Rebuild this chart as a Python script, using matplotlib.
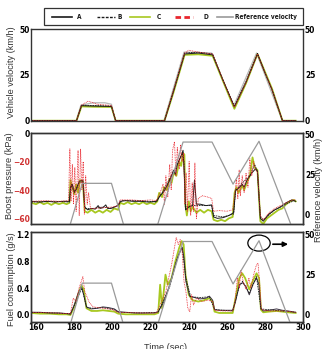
import matplotlib
matplotlib.use("Agg")
import matplotlib.pyplot as plt
from matplotlib.lines import Line2D
from matplotlib.patches import Ellipse, Rectangle
from matplotlib.font_manager import FontProperties

# ---- data ----
# panel 1: vehicle velocity (km/h)
vel_t = [157.5, 181.2, 183.8, 190, 199.5, 201.7, 227.3, 232, 237.8, 245, 252.5, 258, 263.9, 270, 276, 280, 283.6, 289.1, 296]
vel_A = [0, 0, 8.2, 8.0, 7.8, 0, 0, 16, 36.5, 37, 36, 22, 7.5, 21, 36.5, 26, 17, 0, 0]
vel_B = [0, 0, 8.5, 8.3, 8.0, 0, 0, 16.5, 37, 37.5, 36.5, 22, 8, 21.5, 36.8, 26, 17, 0, 0]
vel_C = [0, 0, 7.8, 7.6, 7.5, 0, 0, 15.5, 36, 36.3, 35.5, 21.5, 6.5, 20.5, 36.5, 26.5, 17.5, 0, 0]
velD_t = [157.5, 181.2, 183.8, 187.3, 192, 199.5, 201.7, 227.3, 232, 237.8, 240, 245, 252.5, 258, 263.9, 270, 276, 280, 283.6, 289.1, 296]
vel_D = [0, 0, 8.5, 10.7, 9, 8.3, 0, 0, 16.5, 37, 38.5, 37.5, 36.5, 22, 7.5, 21, 36.5, 26, 17, 0, 0]
velR_t = [157.5, 181, 183.5, 190, 196, 199.5, 201.5, 227, 237.5, 252, 263.5, 275.5, 289, 296]
vel_R = [0, 0, 8.5, 9.8, 9.8, 9, 0, 0, 37.5, 37, 8, 37, 0, 0]

# reference velocity drawn on the right axes of panels 2 and 3 (below 0 = off the axes)
ref_t = [157.5, 177.5, 184.2, 199.5, 206.2, 223.3, 237.0, 252.2, 263.2, 276.8, 294.0, 300]
ref_v = [-8, -8, 19.5, 19.5, -8, -8, 45.5, 45.5, 19.0, 46.0, -8, -8]

# panel 2: boost pressure (kPa)
bA_t = [157.5, 162, 166, 170, 174, 177.5, 178, 179, 180, 181, 182.5, 184.5, 185.5, 187, 189, 191, 192.5, 193.5,
        195, 196.5, 197.5, 199, 201, 203, 204, 207, 211, 215, 219, 223, 225, 227, 229, 231, 232, 233, 234, 236,
        237, 237.8, 238.3, 240, 242, 243, 244, 246, 249, 252, 253, 255, 258, 261, 263.5, 264.5, 266, 268, 269,
        270.5, 273, 275, 276, 277.5, 279, 282, 285, 288, 291, 294, 296]
bA = [-48, -48.5, -48, -48.5, -48, -48, -38, -36, -41, -40, -34, -33, -52, -54, -53, -53.5, -51, -53,
      -52.5, -50.5, -53, -53, -52, -51, -48, -47.5, -48, -48, -48.5, -48, -44, -41, -36, -30, -26, -29, -22, -16,
      -12, -33, -54, -52, -51, -33, -50, -50, -51, -50.5, -59, -60, -59.5, -58, -56, -40, -39, -36, -38,
      -33, -28, -25, -27, -60, -62, -57, -54, -52, -49, -47, -48]
bB_t = [157.5, 170, 177.5, 178.5, 180, 182.5, 184.5, 185.5, 190, 195, 200, 203.5, 205, 215, 223, 226, 230, 233,
        236.5, 237.5, 238.2, 242, 246, 252, 253, 258, 263.5, 264.5, 268, 272, 274.5, 276, 277.5, 279, 285, 291, 296]
bB = [-48.5, -48, -48.5, -36, -42, -35, -34, -53, -53, -52, -53, -50, -47.5, -47.5, -48.5, -42, -32, -25,
      -14, -20, -52, -51, -51, -51, -58, -59, -57, -41, -35, -30, -22, -27, -59, -61, -54, -50, -47]
bC_t = [157.5, 160, 162, 164, 166, 168, 170, 172, 174, 176, 177.5, 178, 179, 180, 181, 182, 183, 184.5, 185.5,
        187, 189, 191, 193, 195, 197, 199, 201, 203, 204, 206, 208, 210, 212, 214, 216, 218, 220, 222, 223.5,
        224.5, 226, 227, 228.5, 230, 231, 232, 233.5, 235, 236, 237, 237.7, 238.2, 239, 240, 241, 242, 244, 246,
        248, 250, 252, 253, 255, 257, 259, 261, 263, 264, 265, 266, 268, 269, 271, 272, 273.4, 274.5, 276, 277.5,
        279, 281, 283, 285, 287, 289, 291, 293, 295, 296]
bC = [-49, -50, -48.5, -50, -49, -50.5, -49, -50, -49, -50, -49, -33, -38, -43, -36, -42, -33, -34, -55,
      -56, -54, -56, -54.5, -56, -54, -55.5, -53, -54, -49, -50, -48.5, -50, -49, -50, -48.5, -50, -49, -50, -48,
      -42, -45, -38, -40, -32, -35, -28, -30, -20, -23, -14, -15, -50, -58, -48, -55, -52, -56, -54,
      -56, -54, -55, -61, -62, -61, -62, -60, -59, -42, -38, -42, -37, -40, -33, -30, -17, -24, -26, -62,
      -64, -60, -58, -56, -54, -53, -50, -48, -47, -48]
bD_t = [157.5, 165, 172, 177, 177.7, 178.3, 179, 179.6, 180.3, 181, 182, 182.6, 183.3, 184, 184.7, 185.3, 186,
        186.8, 187.5, 188.5, 190, 195, 200, 203, 204, 210, 215, 220, 223, 225, 226.5, 227.3, 228, 229, 230,
        230.8, 231.5, 232.5, 233.3, 234, 235, 235.7, 236.5, 237.3, 238, 238.6, 239.3, 240.2, 241, 241.8, 242.5,
        243.2, 244, 245, 247, 250, 252, 253, 256, 260, 263, 264, 265, 265.7, 266.4, 267, 268, 269, 270, 271,
        272, 273, 274, 275, 276, 277.5, 279, 282, 285, 288, 291, 294, 296]
bD = [-48, -47.5, -48, -47.5, -11, -48, -22, -50, -24, -55, -12, -58, -11, -40, -20, -57, -30,
      -50, -42, -53, -53, -52.5, -52, -51, -47, -47, -47.5, -47, -47.5, -42, -36, -50, -30, -45, -22,
      -40, -12, -6, -30, -10, -25, -8, -20, -14, -50, -28, -55, -20, -58, -35, -55,
      -21, -60, -46, -44, -45, -46, -55, -54.5, -55, -54, -44, -32, -46, -26, -44, -30, -42, -28, -38,
      -18, -30, -20, -26, -27, -58, -61, -56, -53, -51, -49, -47, -47]

# panel 3: fuel consumption (g/s)
fA_t = [157.5, 162, 167, 172, 176, 178, 180, 182, 183.8, 185, 186.4, 189, 192, 195, 198, 201, 203, 207, 212,
        217, 222, 224, 227, 230, 233, 235, 236.5, 237.5, 238.5, 240.5, 243, 246, 249, 250.8, 252.5, 253.5, 256,
        260, 263, 264.5, 266.5, 268.2, 270, 271.7, 273.5, 275.5, 276.8, 277.8, 279, 282, 286, 289, 292, 296]
fA = [0.04, 0.04, 0.03, 0.03, 0.02, 0.01, 0.15, 0.32, 0.42, 0.30, 0.12, 0.09, 0.10, 0.12, 0.11, 0.09, 0.05, 0.04, 0.03,
      0.03, 0.03, 0.05, 0.20, 0.45, 0.75, 0.92, 1.01, 0.85, 0.50, 0.28, 0.26, 0.24, 0.25, 0.28, 0.22, 0.08, 0.07,
      0.07, 0.07, 0.20, 0.45, 0.48, 0.42, 0.30, 0.45, 0.55, 0.45, 0.10, 0.06, 0.07, 0.09, 0.07, 0.06, 0.04]
fB_t = [157.5, 170, 178, 181, 184, 186.5, 190, 195, 201, 203, 215, 224, 230, 234, 236.5, 238.5, 241, 246, 250.8,
        253.5, 263, 266.5, 268.2, 271.7, 275.5, 277.8, 285, 296]
fB = [0.04, 0.03, 0.02, 0.20, 0.40, 0.11, 0.10, 0.11, 0.08, 0.04, 0.03, 0.04, 0.42, 0.85, 1.00, 0.55, 0.27, 0.26, 0.27,
      0.08, 0.06, 0.43, 0.50, 0.32, 0.57, 0.09, 0.07, 0.04]
fC_t = [157.5, 162, 167, 172, 176, 178, 180, 182, 183.8, 185, 186.4, 189, 192, 195, 198, 201, 203, 207, 212, 217,
        222, 224, 225, 226, 227.8, 229, 231, 233, 235, 236.3, 237.3, 238.3, 240, 242, 245, 248, 250.8, 252.5,
        253.5, 256, 260, 263, 264.5, 266.5, 268, 269.5, 271.7, 273.5, 275.5, 276.8, 277.8, 279, 282, 286, 289,
        292, 296]
fC = [0.03, 0.02, 0.02, 0.01, 0.01, 0.0, 0.12, 0.30, 0.44, 0.38, 0.10, 0.06, 0.06, 0.07, 0.06, 0.05, 0.02, 0.01, 0.01, 0.01,
      0.01, 0.03, 0.45, 0.10, 0.60, 0.45, 0.55, 0.80, 1.00, 1.10, 1.05, 0.60, 0.30, 0.22, 0.20, 0.22, 0.25, 0.20,
      0.05, 0.03, 0.03, 0.03, 0.25, 0.55, 0.62, 0.55, 0.38, 0.50, 0.62, 0.55, 0.08, 0.04, 0.05, 0.06, 0.05,
      0.04, 0.03]
fD_t = [157.5, 170, 178, 179.5, 181, 182.5, 184.5, 185.5, 186.5, 188, 190, 195, 200, 203, 215, 223, 225, 228, 231,
        233.4, 234.5, 235.5, 236.5, 237.5, 238.5, 239.5, 240.5, 241.5, 242.5, 244, 247, 250, 252.5, 253.5, 258,
        263, 264, 265.5, 266.5, 267.3, 268.5, 270, 271.5, 272.5, 274, 275.5, 276.3, 277.3, 278, 282, 290, 296]
fD = [0.04, 0.03, 0.02, 0.25, 0.20, 0.40, 0.57, 0.35, 0.28, 0.18, 0.12, 0.10, 0.08, 0.04, 0.03, 0.03, 0.15, 0.35, 0.75,
      1.15, 1.05, 1.12, 0.95, 0.50, 0.35, 0.10, 0.05, 0.30, 0.15, 0.25, 0.20, 0.22, 0.20, 0.07, 0.06,
      0.06, 0.15, 0.55, 0.40, 0.67, 0.50, 0.38, 0.55, 0.40, 0.60, 0.75, 0.77, 0.40, 0.08, 0.06, 0.06, 0.04]

legend_names = ["A", "B", "C", "D", "Reference velocity"]

# ---- styles ----
cA, cC, cD, cR = "#1a1a1a", "#a8c820", "#e8262e", "#9a9a9a"
narrow = ["Liberation Sans Narrow", "DejaVu Sans"]
tick_font = FontProperties(family=narrow, weight="bold", stretch="condensed", size=6)
label_col = "#333333"
W, H = 324, 349

fig = plt.figure(figsize=(3.24, 3.49), dpi=100)
ax1 = fig.add_axes([0.0966, 0.6542, 0.8395, 0.2619])
ax2 = fig.add_axes([0.0966, 0.3573, 0.8395, 0.2607])
ax3 = fig.add_axes([0.0966, 0.0782, 0.8395, 0.2562])


def style(ax):
    ax.set_xlim(157.5, 300)
    for s in ax.spines.values():
        s.set_color("#333333")
        s.set_linewidth(1.0)
    ax.tick_params(length=0, pad=1.2)
    for lab in ax.get_xticklabels() + ax.get_yticklabels():
        lab.set_fontproperties(tick_font)


# panel 1
ax1.plot(velR_t, vel_R, color=cR, lw=0.9, alpha=0.7)
ax1.plot(vel_t, vel_C, color=cC, lw=1.3)
ax1.plot(vel_t, vel_A, color=cA, lw=0.7)
ax1.plot(vel_t, vel_B, color=cA, lw=0.6, ls=(0, (2, 1)))
ax1.plot(velD_t, vel_D, color=cD, lw=0.6, ls=(0, (1, 1)))
ax1.set_ylim(0, 50)
ax1.set_yticks([0, 25, 50])
ax1.set_xticks([])
ax1.tick_params(labelright=True)
style(ax1)

# panel 2
ax2.plot(bC_t, bC, color=cC, lw=1.3)
ax2.plot(bA_t, bA, color=cA, lw=0.7)
ax2.plot(bB_t, bB, color=cA, lw=0.6, ls=(0, (2, 1)))
ax2.plot(bD_t, bD, color=cD, lw=0.6, ls=(0, (1, 1)))
ax2.set_ylim(-64.2, 0)
ax2.set_yticks([0, -20, -40, -60])
ax2.set_xticks([])
style(ax2)
for lab in ax2.get_yticklabels()[1:]:
    lab.set_color("#d03030")
ax2r = ax2.twinx()
ax2r.plot(ref_t, ref_v, color=cR, lw=0.9)
ax2r.set_ylim(-6.3, 51)
ax2r.set_yticks([0, 25, 50])
style(ax2r)

# panel 3
ax3.plot(fC_t, fC, color=cC, lw=1.3)
ax3.plot(fA_t, fA, color="#3a3040", lw=0.7)
ax3.plot(fB_t, fB, color=cA, lw=0.6, ls=(0, (2, 1)))
ax3.plot(fD_t, fD, color=cD, lw=0.6, ls=(0, (1, 1)))
ax3.set_ylim(-0.1, 1.23)
ax3.set_yticks([0.0, 0.4, 0.8, 1.2])
ax3.set_yticklabels(["0.0", "0.4", "0.8", "1.2"])
ax3.set_xticks([160, 180, 200, 220, 240, 260, 280, 300])
style(ax3)
ax3r = ax3.twinx()
ax3r.plot(ref_t, ref_v, color=cR, lw=0.9)
ax3r.set_ylim(-4.6, 51.25)
ax3r.set_yticks([0, 25, 50])
style(ax3r)
ax3r.add_patch(Ellipse((276.8, 44.5), 11.7, 10, fill=False, ec="black", lw=0.9))
ax3r.annotate("", xy=(293.5, 43.8), xytext=(282.6, 43.8),
              arrowprops=dict(arrowstyle="-|>", color="black", lw=1.2, mutation_scale=7))

# axis labels
lab_kw = dict(rotation=90, ha="center", va="center", fontsize=6.6, color=label_col,
              family="Liberation Sans")
fig.text(0.036, 0.792, "Vehicle velocity (km/h)", **lab_kw)
fig.text(0.029, 0.496, "Boost pressure (kPa)", **lab_kw)
fig.text(0.036, 0.2006, "Fuel consumption (g/s)", **lab_kw)
fig.text(0.984, 0.455, "Reference velocity (km/h)", **lab_kw)
fig.text(0.512, 1 - 343 / H, "Time (sec)", ha="center", va="top", fontsize=6.6, color=label_col,
         family="Liberation Sans")

# legend box laid out by hand (pixel positions)
fig.patches.append(Rectangle((44.3 / W, 1 - 25 / H), 259 / W, 16.7 / H, transform=fig.transFigure,
                             fill=False, ec="#333333", lw=0.9))
leg_y = 1 - 16.7 / H
leg_styles = [dict(color=cA, lw=1.2), dict(color=cA, lw=1.0, ls=(0, (2, 1))), dict(color=cC, lw=1.2),
              dict(color=cD, lw=2.0, ls=(0, (2, 1.2))), dict(color=cR, lw=1.2)]
handle_px = [(52, 72), (97, 115), (130, 150), (175, 193), (217, 233)]
text_px = [77, 117, 157, 203, 235]
leg_font = FontProperties(family=narrow, weight="bold", stretch="condensed", size=4.7)
for name, st, (x0, x1), tx in zip(legend_names, leg_styles, handle_px, text_px):
    fig.lines.append(Line2D([x0 / W, x1 / W], [leg_y, leg_y], transform=fig.transFigure, **st))
    fig.text(tx / W, leg_y, name, ha="left", va="center", fontproperties=leg_font, color="#1a1a1a")

fig.savefig("out.png", dpi=100)
